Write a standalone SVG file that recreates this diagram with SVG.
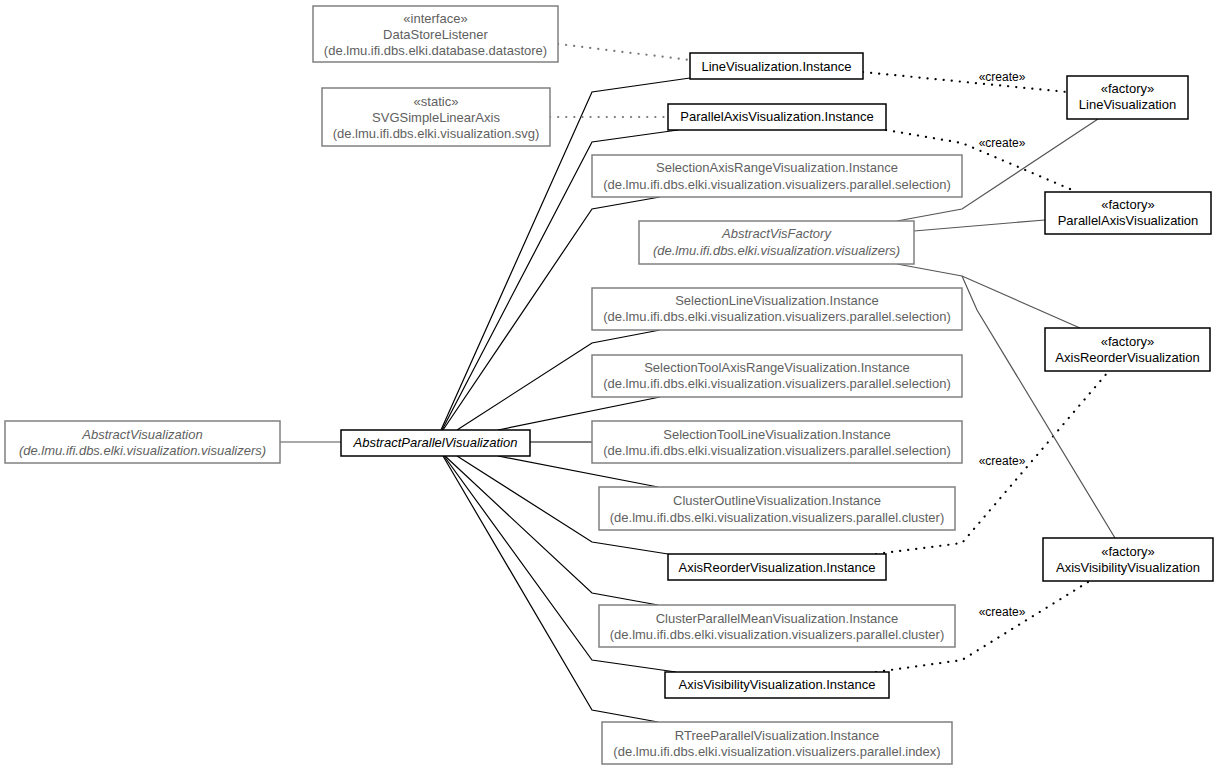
<svg xmlns="http://www.w3.org/2000/svg" width="1219" height="771" viewBox="0 0 1219 771">
<style>
text{font-family:"Liberation Sans",Arial,sans-serif;font-size:13px;text-anchor:middle}
.g rect{fill:#fff;stroke:#808080;stroke-width:1.5}
.g text{fill:#5f5f5f}
.b rect{fill:#fff;stroke:#000;stroke-width:1.5}
.b text{fill:#000}
.i{font-style:italic}
.e{fill:none;stroke:#000;stroke-width:1.2}
.f{fill:none;stroke:#555;stroke-width:1.2}
.d{fill:none;stroke:#000;stroke-width:2.2;stroke-dasharray:0.1 8;stroke-linecap:round}
.dg{fill:none;stroke:#777;stroke-width:2.2;stroke-dasharray:0.1 8;stroke-linecap:round}
.lbl{font-size:12px;fill:#000}
</style>
<rect width="1219" height="771" fill="#fff"/>
<g id="connectors">
<path class="f" d="M280,442 H341"/>
<path class="e" d="M441,430 L592,92 L690,78"/>
<path class="e" d="M442,430 L592,142 L678,130"/>
<path class="e" d="M443,430 L592,209 L660,197"/>
<path class="e" d="M457,430 L592,343 L660,330"/>
<path class="e" d="M498,430 L660,397"/>
<path class="e" d="M530,442 H592"/>
<path class="e" d="M498,456 L658,487"/>
<path class="e" d="M457,456 L592,542 L668,554"/>
<path class="e" d="M445,456 L592,593 L658,605"/>
<path class="e" d="M444,456 L592,660 L676,672"/>
<path class="e" d="M443,456 L592,710 L658,722"/>
<path class="dg" d="M558,44 L690,60"/>
<path class="dg" d="M550,117 H668"/>
<path class="d" d="M863,72 L1067,92"/>
<path class="d" d="M886,130 L962,143 L1077,192"/>
<path class="d" d="M876,554 L962,543 L1108,372"/>
<path class="d" d="M876,672 L962,660 L1088,582"/>
<path class="f" d="M897,221 L962,209 L1098,119"/>
<path class="f" d="M914,231 L1045,220"/>
<path class="f" d="M897,264 L962,276 L1080,328"/>
<path class="f" d="M962,276 L977,310 L1115,538"/>
<text class="lbl" x="1002" y="81">«create»</text>
<text class="lbl" x="1002" y="147">«create»</text>
<text class="lbl" x="1002" y="465">«create»</text>
<text class="lbl" x="1002" y="616">«create»</text>
</g>
<g id="DataStoreListener" class="g"><rect x="313" y="6" width="245" height="56"/><text x="435.5" y="23">«interface»</text><text x="435.5" y="39">DataStoreListener</text><text x="435.5" y="55">(de.lmu.ifi.dbs.elki.database.datastore)</text></g>
<g id="LineVisualizationInstance" class="b"><rect x="690" y="53" width="173" height="26"/><text x="776.5" y="71">LineVisualization.Instance</text></g>
<g id="SVGSimpleLinearAxis" class="g"><rect x="322" y="88" width="228" height="58"/><text x="436" y="106">«static»</text><text x="436" y="122">SVGSimpleLinearAxis</text><text x="436" y="138">(de.lmu.ifi.dbs.elki.visualization.svg)</text></g>
<g id="ParallelAxisVisualizationInstance" class="b"><rect x="668" y="104" width="218" height="26"/><text x="777" y="121">ParallelAxisVisualization.Instance</text></g>
<g id="SelectionAxisRangeVisualizationInstance" class="g"><rect x="592" y="155" width="370" height="42"/><text x="777" y="172">SelectionAxisRangeVisualization.Instance</text><text x="777" y="189">(de.lmu.ifi.dbs.elki.visualization.visualizers.parallel.selection)</text></g>
<g id="AbstractVisFactory" class="g"><rect x="639" y="221" width="275" height="43"/><text class="i" x="776.5" y="238">AbstractVisFactory</text><text class="i" x="776.5" y="255">(de.lmu.ifi.dbs.elki.visualization.visualizers)</text></g>
<g id="SelectionLineVisualizationInstance" class="g"><rect x="592" y="288" width="370" height="42"/><text x="777" y="305">SelectionLineVisualization.Instance</text><text x="777" y="321">(de.lmu.ifi.dbs.elki.visualization.visualizers.parallel.selection)</text></g>
<g id="SelectionToolAxisRangeVisualizationInstance" class="g"><rect x="592" y="355" width="370" height="42"/><text x="777" y="372">SelectionToolAxisRangeVisualization.Instance</text><text x="777" y="388">(de.lmu.ifi.dbs.elki.visualization.visualizers.parallel.selection)</text></g>
<g id="SelectionToolLineVisualizationInstance" class="g"><rect x="592" y="421" width="370" height="42"/><text x="777" y="439">SelectionToolLineVisualization.Instance</text><text x="777" y="455">(de.lmu.ifi.dbs.elki.visualization.visualizers.parallel.selection)</text></g>
<g id="ClusterOutlineVisualizationInstance" class="g"><rect x="599" y="487" width="356" height="43"/><text x="777" y="505">ClusterOutlineVisualization.Instance</text><text x="777" y="522">(de.lmu.ifi.dbs.elki.visualization.visualizers.parallel.cluster)</text></g>
<g id="AxisReorderVisualizationInstance" class="b"><rect x="668" y="554" width="218" height="26"/><text x="777" y="572">AxisReorderVisualization.Instance</text></g>
<g id="ClusterParallelMeanVisualizationInstance" class="g"><rect x="599" y="605" width="356" height="42"/><text x="777" y="623">ClusterParallelMeanVisualization.Instance</text><text x="777" y="639">(de.lmu.ifi.dbs.elki.visualization.visualizers.parallel.cluster)</text></g>
<g id="AxisVisibilityVisualizationInstance" class="b"><rect x="665" y="672" width="224" height="26"/><text x="777" y="689">AxisVisibilityVisualization.Instance</text></g>
<g id="RTreeParallelVisualizationInstance" class="g"><rect x="602" y="722" width="350" height="42"/><text x="777" y="740">RTreeParallelVisualization.Instance</text><text x="777" y="756">(de.lmu.ifi.dbs.elki.visualization.visualizers.parallel.index)</text></g>
<g id="AbstractVisualization" class="g"><rect x="5" y="421" width="275" height="42"/><text class="i" x="142.5" y="439">AbstractVisualization</text><text class="i" x="142.5" y="455">(de.lmu.ifi.dbs.elki.visualization.visualizers)</text></g>
<g id="AbstractParallelVisualization" class="b"><rect x="341" y="430" width="189" height="26"/><text class="i" x="435.5" y="447">AbstractParallelVisualization</text></g>
<g id="LineVisualization" class="b"><rect x="1067" y="76" width="121" height="43"/><text x="1127.5" y="93">«factory»</text><text x="1127.5" y="109">LineVisualization</text></g>
<g id="ParallelAxisVisualization" class="b"><rect x="1045" y="192" width="166" height="42"/><text x="1128" y="209">«factory»</text><text x="1128" y="225">ParallelAxisVisualization</text></g>
<g id="AxisReorderVisualization" class="b"><rect x="1045" y="328" width="165" height="43"/><text x="1127.5" y="346">«factory»</text><text x="1127.5" y="362">AxisReorderVisualization</text></g>
<g id="AxisVisibilityVisualization" class="b"><rect x="1043" y="538" width="170" height="43"/><text x="1128" y="556">«factory»</text><text x="1128" y="572">AxisVisibilityVisualization</text></g>
</svg>
